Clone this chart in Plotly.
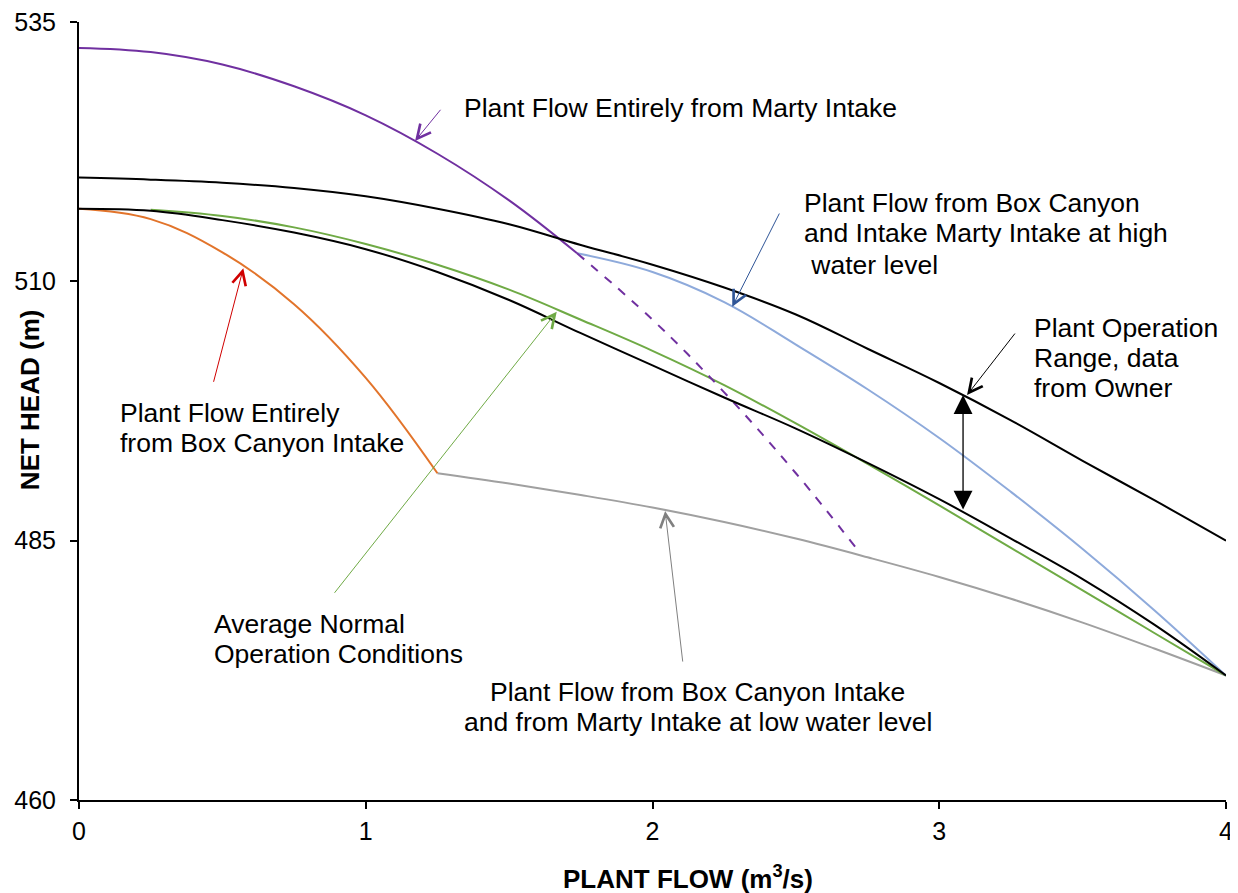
import plotly.graph_objects as go

# ---------------- data ----------------
flow_grid = [0, 0.25, 0.5, 0.75, 1.0, 1.25, 1.5, 1.75, 2.0, 2.25, 2.5, 2.75, 3.0, 3.25, 3.5, 3.75, 4.0]

range_upper = [520.0, 519.8, 519.5, 519.0, 518.2, 517.0, 515.5, 513.5, 511.6, 509.4, 506.8, 503.5, 500.2, 496.6, 492.7, 488.9, 485.0]
range_lower = [517.0, 516.8, 515.9, 514.7, 513.1, 510.9, 508.2, 505.0, 501.9, 498.8, 495.8, 492.5, 489.0, 485.2, 481.3, 476.9, 472.0]

avg_flow = [0.25, 0.5, 0.75, 1.0, 1.25, 1.5, 1.75, 2.0, 2.25, 2.5, 2.75, 3.0, 3.25, 3.5, 3.75, 4.0]
avg_head = [516.9, 516.3, 515.2, 513.6, 511.6, 509.2, 506.3, 503.3, 500.0, 496.3, 492.4, 488.4, 484.3, 480.2, 476.1, 472.0]

marty_flow = [0, 0.25, 0.5, 0.75, 1.0, 1.25, 1.5, 1.737]
marty_head = [532.5, 532.1, 530.9, 528.8, 526.0, 522.3, 517.8, 512.7]
marty_ext_flow = [1.737, 2.0, 2.25, 2.5, 2.71]
marty_ext_head = [512.7, 506.3, 499.3, 491.5, 484.3]

box_flow = [0, 0.25, 0.5, 0.75, 1.0, 1.25]
box_head = [517.0, 516.0, 512.8, 507.8, 500.7, 491.5]

low_flow = [1.25, 1.5, 1.75, 2.0, 2.25, 2.5, 2.75, 3.0, 3.25, 3.5, 3.75, 4.0]
low_head = [491.5, 490.5, 489.4, 488.2, 486.8, 485.2, 483.4, 481.5, 479.4, 477.1, 474.6, 472.0]

high_flow = [1.737, 2.0, 2.25, 2.5, 2.75, 3.0, 3.25, 3.5, 3.75, 4.0]
high_head = [512.7, 510.9, 508.0, 503.9, 499.6, 494.9, 489.7, 484.2, 478.3, 472.0]

x_ticks = [0, 1, 2, 3, 4]
y_ticks = [460, 485, 510, 535]

FONT = "Arial, Liberation Sans, sans-serif"

fig = go.Figure()

def add_line(x, y, color, width=2, dash="solid"):
    fig.add_trace(go.Scatter(x=x, y=y, mode="lines",
                             line=dict(color=color, width=width, dash=dash, shape="spline", smoothing=1.1),
                             hoverinfo="skip", showlegend=False))

add_line(low_flow, low_head, "#A0A0A0")
add_line(box_flow, box_head, "#E2742B")
add_line(avg_flow, avg_head, "#6FAA45")
add_line(high_flow, high_head, "#8EAADB")
add_line(marty_ext_flow, marty_ext_head, "#7030A0", dash="dash")
add_line(marty_flow, marty_head, "#7030A0")
add_line(flow_grid, range_upper, "#000000")
add_line(flow_grid, range_lower, "#000000")

# ---------------- annotations ----------------
def arrow(hx, hy, tx, ty, color):
    fig.add_annotation(x=hx, y=hy, ax=tx, ay=ty, xref="x", yref="y", axref="x", ayref="y",
                       text="", showarrow=True, arrowhead=5, arrowsize=2.7, arrowwidth=1,
                       arrowcolor=color)

arrow(1.172, 523.53, 1.265, 526.68, "#7030A0")
arrow(2.278, 507.55, 2.445, 516.68, "#2F5597")
arrow(3.097, 499.04, 3.268, 505.11, "#000000")
arrow(0.573, 511.26, 0.468, 500.17, "#D00000")
arrow(1.666, 507.07, 0.887, 479.83, "#6FAA45")
arrow(2.044, 487.86, 2.106, 473.2, "#808080")

# double-headed range arrow
fig.add_annotation(x=3.083, y=499.04, ax=3.083, ay=487.86, xref="x", yref="y", axref="x", ayref="y",
                   text="", showarrow=True, arrowhead=2, startarrowhead=2, arrowside="end+start",
                   arrowsize=2.9, startarrowsize=2.9, arrowwidth=1.3, arrowcolor="#000000")

def label(x, y, text, xanchor="left"):
    fig.add_annotation(x=x, y=y, xref="x", yref="y", text=text, showarrow=False,
                       xanchor=xanchor, yanchor="middle", align="left",
                       font=dict(family=FONT, size=26.5, color="#000000"))

label(1.336, 526.71, "Plant Flow Entirely from Marty Intake")
label(2.521, 517.55, "Plant Flow from Box Canyon")
label(2.521, 514.66, "and Intake Marty Intake at high")
label(2.521, 511.57, "\u00a0water level")
label(3.323, 505.50, "Plant Operation")
label(3.323, 502.61, "Range, data")
label(3.323, 499.72, "from Owner")
label(0.136, 497.31, "Plant Flow Entirely")
label(0.136, 494.41, "from Box Canyon Intake")
label(0.464, 476.96, "Average Normal")
label(0.464, 474.07, "Operation Conditions")
label(2.157, 470.41, "Plant Flow from Box Canyon Intake", xanchor="center")
label(2.157, 467.52, "and from Marty Intake at low water level", xanchor="center")

# axis titles
fig.add_annotation(x=-0.0427, y=0.514, xref="paper", yref="paper", text="<b>NET HEAD (m)</b>",
                   textangle=-90, showarrow=False, xanchor="center", yanchor="middle",
                   font=dict(family=FONT, size=26, color="#000000"))
fig.add_annotation(x=0.531, y=-0.099, xref="paper", yref="paper", text="<b>PLANT FLOW (m<sup>3</sup>/s)</b>",
                   showarrow=False, xanchor="center", yanchor="middle",
                   font=dict(family=FONT, size=26, color="#000000"))

# the page adds an 8px body margin, so the figure is offset by 8px on screen
fig.update_layout(
    width=1238, height=893,
    margin=dict(l=71, r=20, t=14, b=101),
    plot_bgcolor="white", paper_bgcolor="white",
    font=dict(family=FONT, color="#000000"),
    showlegend=False,
)
fig.update_xaxes(range=[0, 4], tickvals=x_ticks, ticktext=[str(v) for v in x_ticks],
                 showgrid=False, zeroline=False, showline=True, linecolor="#000000", linewidth=2,
                 ticks="outside", ticklen=7, tickwidth=2, tickcolor="#000000",
                 tickfont=dict(family=FONT, size=25), ticklabelstandoff=1, automargin=False,
                 ticklabeloverflow="allow")
fig.update_yaxes(range=[460, 535], tickvals=y_ticks, ticktext=[str(v) for v in y_ticks],
                 showgrid=False, zeroline=False, showline=True, linecolor="#000000", linewidth=2,
                 ticks="outside", ticklen=7, tickwidth=2, tickcolor="#000000",
                 tickfont=dict(family=FONT, size=25), ticklabelstandoff=9, automargin=False,
                 ticklabeloverflow="allow")

fig.write_html("out.html")
